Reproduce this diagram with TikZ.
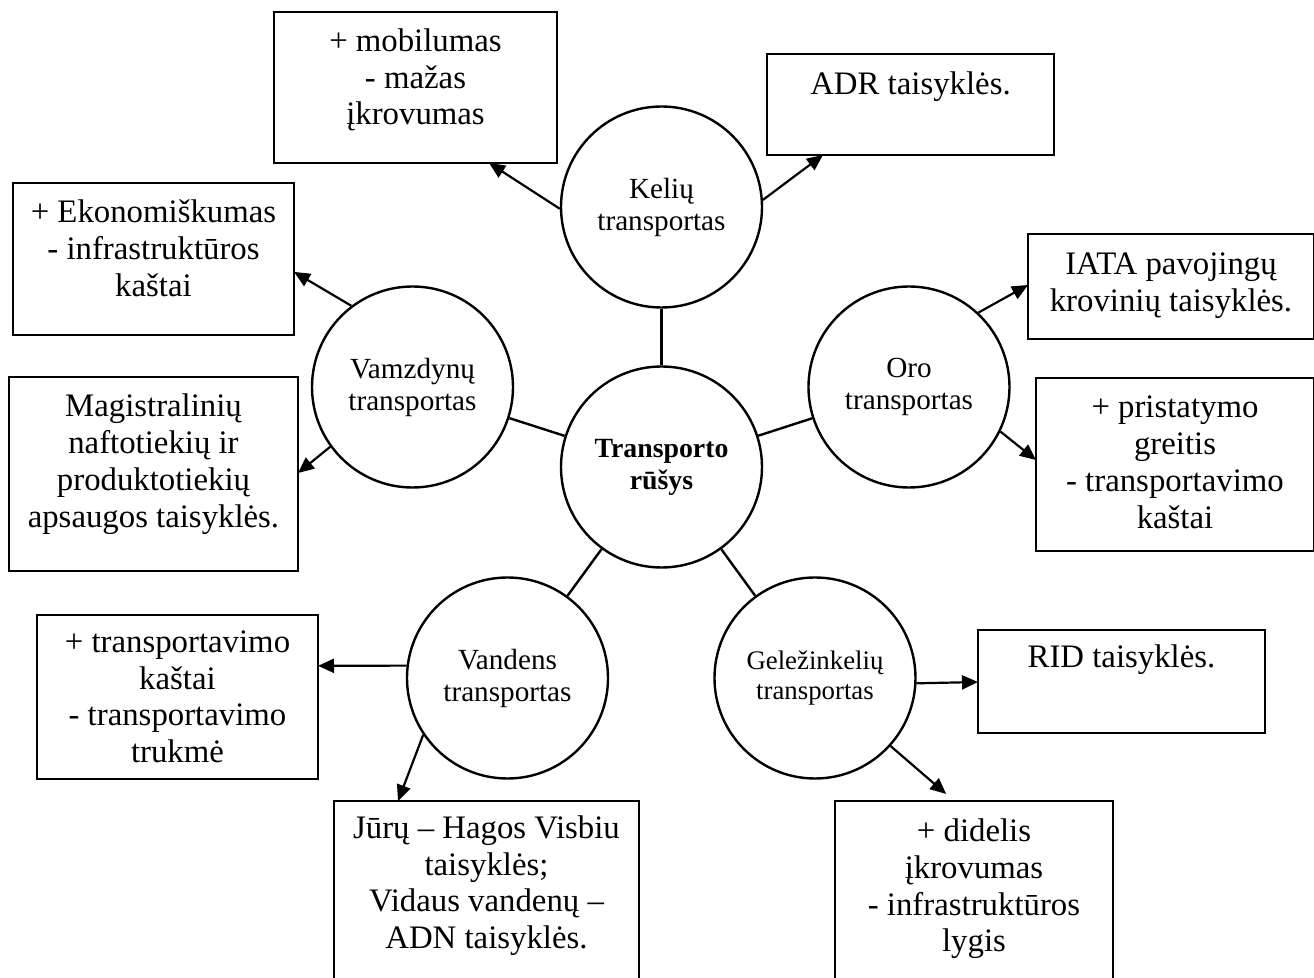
\documentclass[tikz,border=0pt]{standalone}
\usepackage{fontspec}
\setmainfont{Liberation Serif}
\usetikzlibrary{arrows.meta,calc}
\newcommand{\bxt}[4]{\parbox[c][#2][t]{#1}{\centering\vspace*{#3}\strut#4}}
\begin{document}
\begin{tikzpicture}[x=0.5pt,y=-0.5pt,
  box/.style={draw, line width=0.6pt, inner sep=0pt, outer sep=0pt, anchor=north west, font=\fontsize{16.4pt}{18.4pt}\selectfont},
  circ/.style={draw, circle, line width=1.2pt, minimum size=100.5pt, inner sep=0pt, align=center, font=\fontsize{14.6pt}{16pt}\selectfont},
  conn/.style={line width=1.2pt},
  arr/.style={line width=1.1pt, -{Triangle[length=8pt,width=7pt]}}]
\useasboundingbox (0,0) rectangle (1314,978);
\clip (0,0) rectangle (1314,978);

% circles
\node[circ] (kel) at (661.5,207) {Kelių\\transportas};
\node[circ] (vam) at (412.5,387) {Vamzdynų\\transportas};
\node[circ] (oro) at (909,387) {Oro\\transportas};
\node[circ, font=\bfseries\fontsize{13.9pt}{16pt}\selectfont] (c) at (661.5,467) {Transporto\\rūšys};
\node[circ] (van) at (507.5,678) {Vandens\\transportas};
\node[circ, font=\fontsize{13.4pt}{15pt}\selectfont] (gel) at (815,678) {Geležinkelių\\transportas};

% boxes
\node[box] (b1) at (274,12) {\bxt{141.5pt}{75.5pt}{6.8pt}{+ mobilumas\\- mažas\\įkrovumas}};
\node[box] (adr) at (767,54) {\bxt{143.5pt}{50.5pt}{7.4pt}{ADR taisyklės.}};
\node[box] (b3) at (13,183) {\bxt{140.5pt}{76pt}{7.1pt}{+ Ekonomiškumas\\- infrastruktūros\\kaštai}};
\node[box] (iata) at (1028,234) {\bxt{143pt}{52.5pt}{7.6pt}{IATA pavojingų\\krovinių taisyklės.}};
\node[box] (b5) at (9,377) {\bxt{144.5pt}{97pt}{7.1pt}{Magistralinių\\naftotiekių ir\\produktotiekių\\apsaugos taisyklės.}};
\node[box] (b6) at (1036,378) {\bxt{139pt}{86.5pt}{7.1pt}{+ pristatymo\\greitis\\- transportavimo\\kaštai}};
\node[box] (b7) at (37,615) {\bxt{140.5pt}{82pt}{5.8pt}{+ transportavimo\\kaštai\\- transportavimo\\trukmė}};
\node[box] (rid) at (978,630) {\bxt{143.5pt}{51.5pt}{6.1pt}{RID taisyklės.}};
\node[box] (b9) at (334,801) {\bxt{152.5pt}{95pt}{5.8pt}{Jūrų – Hagos Visbiu\\taisyklės;\\Vidaus vandenų –\\ADN taisyklės.}};
\node[box] (b10) at (835,801) {\bxt{139pt}{95pt}{7.4pt}{+ didelis\\įkrovumas\\- infrastruktūros\\lygis}};

% connectors to centre
\draw[conn] (c) -- (kel);
\draw[conn] (c) -- (vam);
\draw[conn] (c) -- (oro);
\draw[conn] (c) -- (van);
\draw[conn] (c) -- (gel);

% arrows
\draw[arr] (kel.181) -- ($(b1.south west)!0.76!(b1.south east)$);
\draw[arr] (kel.4) -- ($(adr.south west)!0.195!(adr.south east)$);
\draw[arr] (vam.127) -- ($(b3.north east)!0.585!(b3.south east)$);
\draw[arr] (vam.216) -- ($(b5.north east)!0.495!(b5.south east)$);
\draw[arr] (oro.47) -- ($(iata.north west)!0.486!(iata.south west)$);
\draw[arr] (oro.334) -- ($(b6.north west)!0.474!(b6.south west)$);
\draw[arr] (van.173) -- ($(b7.north east)!0.31!(b7.south east)$);
\draw[arr] (van.214) -- ($(b9.north west)!0.21!(b9.north east)$);
\draw[arr] (gel.357) -- ($(rid.north west)!0.505!(rid.south west)$);
\draw[arr] (gel.318) -- ($(b10.north west)!0.40!(b10.north east)+(0,-7)$);
\end{tikzpicture}
\end{document}
